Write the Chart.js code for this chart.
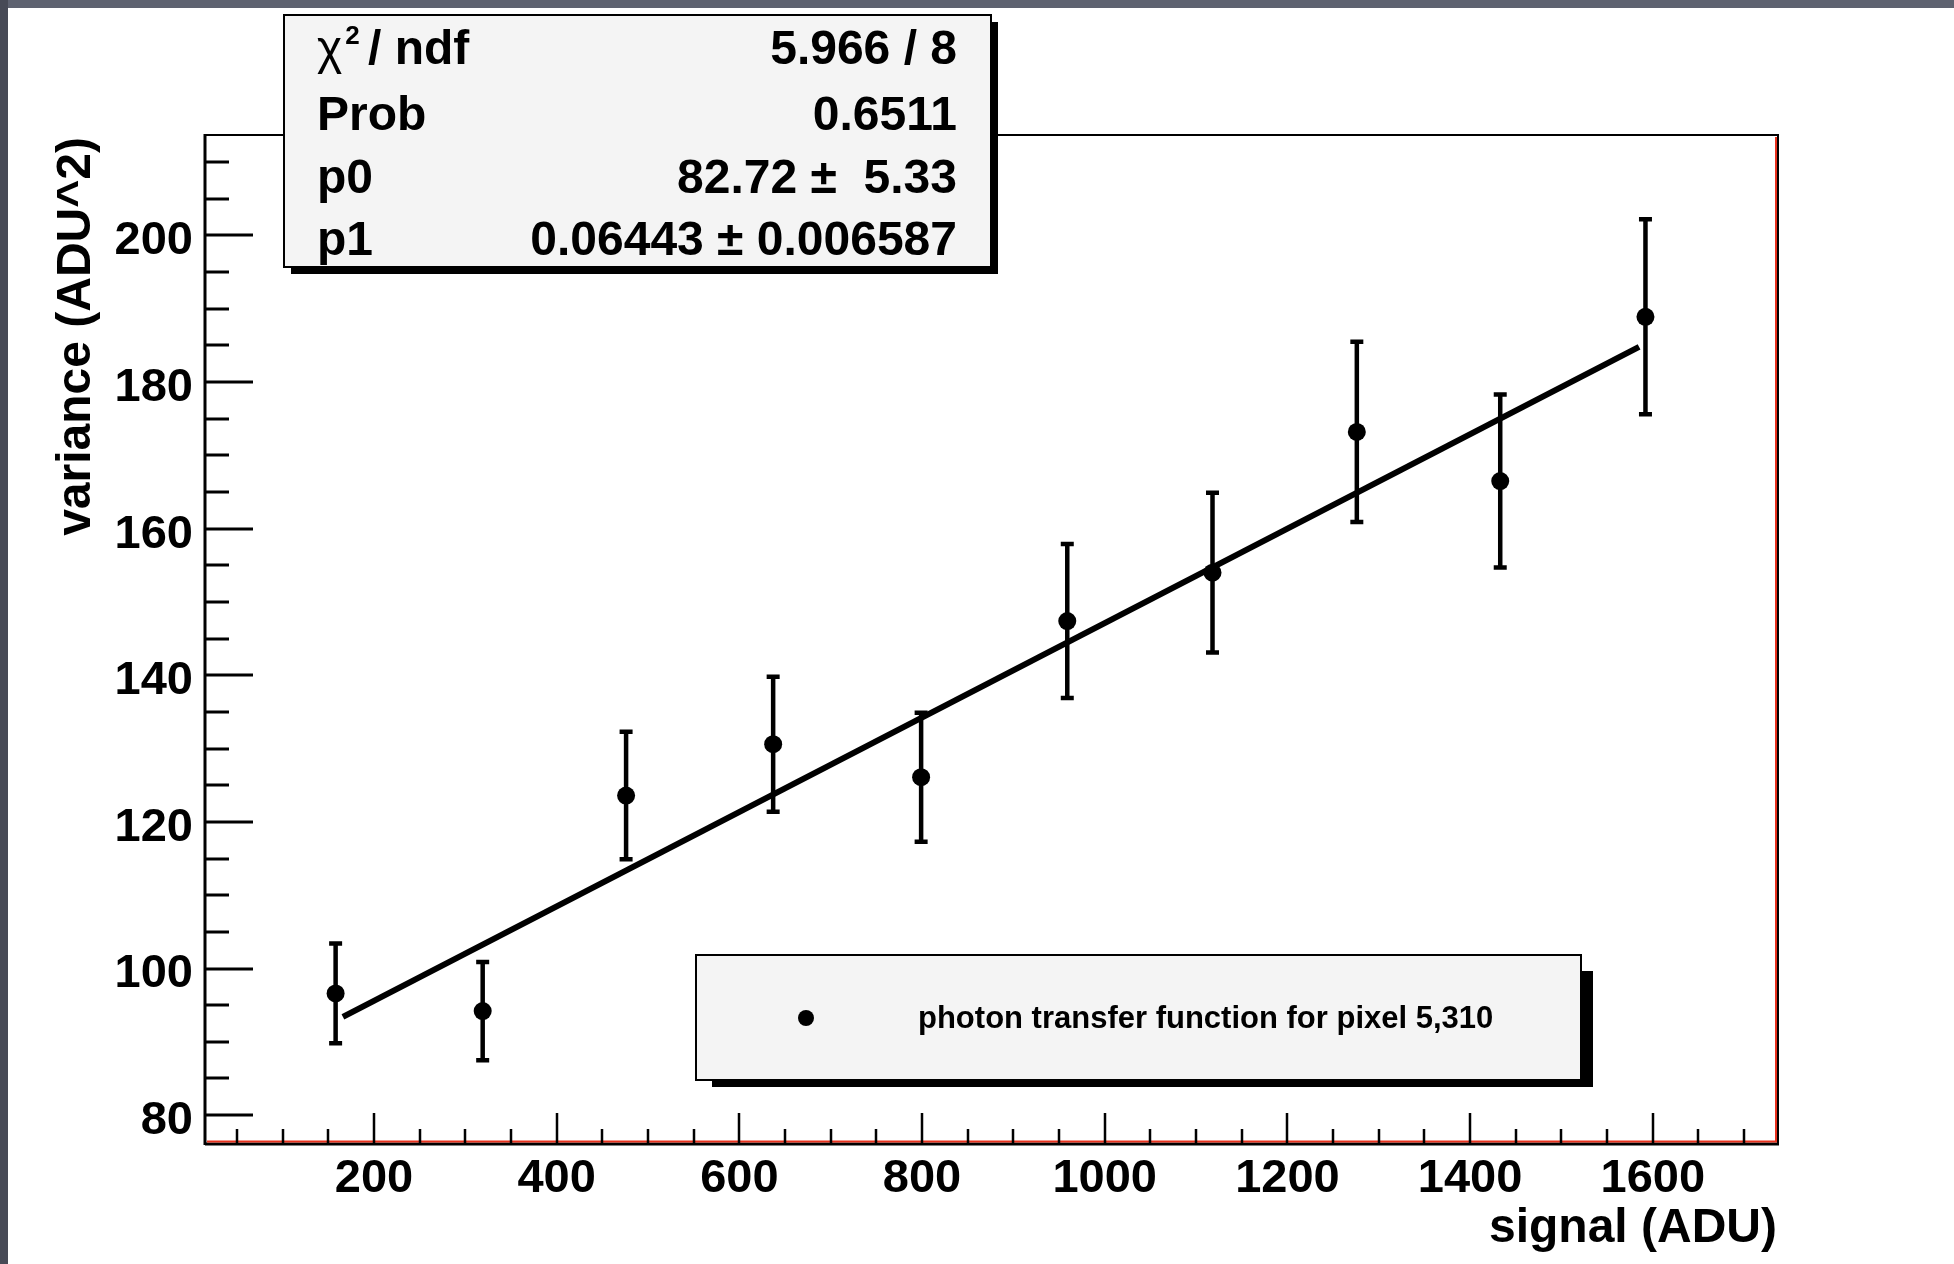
<!DOCTYPE html>
<html>
<head>
<meta charset="utf-8">
<script src="https://cdn.jsdelivr.net/npm/chart.js@4"></script>
<style>
html, body { margin: 0; padding: 0; background: #fff; }
#wrap { position: relative; width: 1954px; height: 1264px; }
</style>
</head>
<body>
<div id="wrap"><canvas id="ptf"></canvas></div>
<script>
// measured points (signal in ADU, variance in ADU^2)
var signal = [158, 319, 476, 637, 799, 959, 1118, 1276, 1433, 1592];
var variance = [96.6, 94.2, 123.6, 130.6, 126.1, 147.4, 154.0, 173.2, 166.5, 188.9];
var varianceErr = [6.8, 6.7, 8.7, 9.2, 8.8, 10.5, 10.9, 12.3, 11.8, 13.3];

// straight line fit, end points
var fitX = [166, 1585];
var fitY = [93.4, 184.8];

var xTicks = [200, 400, 600, 800, 1000, 1200, 1400, 1600];
var yTicks = [80, 100, 120, 140, 160, 180, 200];

var statLabels = ['/ ndf', 'Prob', 'p0', 'p1'];
var statValues = ['5.966 / 8', '0.6511', '82.72 \u00b1  5.33', '0.06443 \u00b1 0.006587'];
var legendText = 'photon transfer function for pixel 5,310';

var FONT = '"Liberation Sans", Arial, Helvetica, sans-serif';

var rootStyle = {
    id: 'rootStyle',
    beforeDraw: function(chart) {
        var ctx = chart.ctx;
        ctx.save();
        ctx.fillStyle = '#ffffff';
        ctx.fillRect(0, 0, chart.width, chart.height);
        ctx.fillStyle = '#5e6270';
        ctx.fillRect(0, 0, chart.width, 8);
        ctx.fillStyle = '#474a56';
        ctx.fillRect(0, 0, 8, chart.height);
        ctx.restore();
    },
    beforeDatasetsDraw: function(chart) {
        // error bars
        var ctx = chart.ctx, xs = chart.scales.x, ys = chart.scales.y;
        ctx.save();
        ctx.strokeStyle = '#000';
        ctx.lineWidth = 4.5;
        for (var i = 0; i < signal.length; i++) {
            var px = xs.getPixelForValue(signal[i]);
            var top = ys.getPixelForValue(variance[i] + varianceErr[i]);
            var bot = ys.getPixelForValue(variance[i] - varianceErr[i]);
            ctx.beginPath();
            ctx.moveTo(px, top); ctx.lineTo(px, bot);
            ctx.moveTo(px - 6.5, top); ctx.lineTo(px + 6.5, top);
            ctx.moveTo(px - 6.5, bot); ctx.lineTo(px + 6.5, bot);
            ctx.stroke();
        }
        ctx.restore();
    },
    afterDraw: function(chart) {
        var ctx = chart.ctx, a = chart.chartArea;
        var xs = chart.scales.x, ys = chart.scales.y;
        ctx.save();

        // frame
        ctx.strokeStyle = '#000';
        ctx.lineWidth = 2;
        ctx.beginPath();
        ctx.moveTo(a.left, a.top); ctx.lineTo(a.right + 2, a.top);
        ctx.moveTo(a.right + 1, a.top); ctx.lineTo(a.right + 1, a.bottom);
        ctx.stroke();
        ctx.lineWidth = 3;
        ctx.beginPath();
        ctx.moveTo(a.left, a.top - 1); ctx.lineTo(a.left, a.bottom + 2);
        ctx.moveTo(a.left, a.bottom + 1); ctx.lineTo(a.right + 2, a.bottom + 1);
        ctx.stroke();
        ctx.strokeStyle = '#e8321e';
        ctx.lineWidth = 2;
        ctx.beginPath();
        ctx.moveTo(a.left + 2, a.bottom - 1.5); ctx.lineTo(a.right, a.bottom - 1.5);
        ctx.moveTo(a.right - 1, a.top + 2); ctx.lineTo(a.right - 1, a.bottom - 1);
        ctx.stroke();

        // tick marks, pointing inward
        ctx.strokeStyle = '#000';
        ctx.lineWidth = 3;
        ctx.beginPath();
        for (var v = 80; v <= ys.max; v += 5) {
            var py = Math.round(ys.getPixelForValue(v));
            var len = (yTicks.indexOf(v) >= 0) ? 48 : 24;
            ctx.moveTo(a.left, py); ctx.lineTo(a.left + len, py);
        }
        ctx.stroke();
        ctx.lineWidth = 2.5;
        ctx.beginPath();
        for (var u = 50; u <= xs.max; u += 50) {
            var px = Math.round(xs.getPixelForValue(u));
            var l = (xTicks.indexOf(u) >= 0) ? 30 : 14;
            ctx.moveTo(px, a.bottom); ctx.lineTo(px, a.bottom - l);
        }
        ctx.stroke();

        // y axis title, end aligned with the top of the frame
        ctx.save();
        ctx.translate(90, 137);
        ctx.rotate(-Math.PI / 2);
        ctx.fillStyle = '#000';
        ctx.font = 'bold 48px ' + FONT;
        ctx.textAlign = 'right';
        ctx.textBaseline = 'alphabetic';
        ctx.fillText('variance (ADU^2)', 0, 0);
        ctx.restore();

        // stats box
        ctx.fillStyle = '#000';
        ctx.fillRect(291, 22, 707, 252);
        ctx.fillStyle = '#f4f4f4';
        ctx.fillRect(284, 15, 707, 252);
        ctx.strokeStyle = '#000';
        ctx.lineWidth = 2;
        ctx.strokeRect(284, 15, 707, 252);
        var rows = [64, 130, 193, 255];
        ctx.fillStyle = '#000';
        ctx.textBaseline = 'alphabetic';
        ctx.font = '48px ' + FONT;
        ctx.textAlign = 'left';
        ctx.fillText('\u03c7', 317, rows[0]);
        var x2 = 317 + ctx.measureText('\u03c7').width + 3;
        ctx.font = 'bold 26px ' + FONT;
        ctx.fillText('2', x2, rows[0] - 20);
        ctx.font = 'bold 48px ' + FONT;
        ctx.fillText(statLabels[0], 368, rows[0]);
        for (var r = 1; r < 4; r++) {
            ctx.fillText(statLabels[r], 317, rows[r]);
        }
        ctx.textAlign = 'right';
        for (var k = 0; k < 4; k++) {
            ctx.fillText(statValues[k], 957, rows[k]);
        }

        // legend box with its shadow strips
        ctx.fillStyle = '#000';
        ctx.fillRect(712, 1079, 881, 8);
        ctx.fillRect(1580, 971, 13, 116);
        ctx.fillStyle = '#f4f4f4';
        ctx.fillRect(696, 955, 885, 125);
        ctx.strokeRect(696, 955, 885, 125);
        ctx.fillStyle = '#000';
        ctx.beginPath();
        ctx.arc(806, 1018, 8, 0, Math.PI * 2);
        ctx.fill();
        ctx.font = 'bold 31px ' + FONT;
        ctx.textAlign = 'left';
        ctx.fillText(legendText, 918, 1028);

        ctx.restore();
    }
};

var ctx = document.getElementById('ptf').getContext('2d');
var chart = new Chart(ctx, {
    type: 'scatter',
    data: {
        datasets: [{
            label: 'fit',
            data: fitX.map(function(x, i) { return {x: x, y: fitY[i]}; }),
            showLine: true,
            borderColor: '#000',
            borderWidth: 6,
            pointRadius: 0,
            order: 0
        }, {
            label: legendText,
            data: signal.map(function(x, i) { return {x: x, y: variance[i]}; }),
            showLine: false,
            pointRadius: 9,
            pointBackgroundColor: '#000',
            pointBorderWidth: 0,
            order: 1
        }]
    },
    options: {
        responsive: true,
        maintainAspectRatio: false,
        animation: false,
        layout: { padding: { left: 0, top: 135, right: 177, bottom: 0 } },
        plugins: {
            legend: { display: false },
            tooltip: { enabled: false }
        },
        scales: {
            x: {
                type: 'linear',
                min: 15,
                max: 1736,
                grid: { display: false, drawTicks: false },
                border: { display: false },
                afterBuildTicks: function(s) { s.ticks = xTicks.map(function(v) { return {value: v}; }); },
                afterFit: function(s) { s.height = 121; },
                ticks: {
                    padding: 8,
                    color: '#000',
                    font: { family: FONT, size: 47, weight: 'bold' },
                    callback: function(v) { return String(v); }
                },
                title: {
                    display: true,
                    text: 'signal (ADU)',
                    align: 'end',
                    color: '#000',
                    font: { family: FONT, size: 48, weight: 'bold' },
                    padding: { top: 0, bottom: 6 }
                }
            },
            y: {
                type: 'linear',
                min: 76.2,
                max: 213.7,
                grid: { display: false, drawTicks: false },
                border: { display: false },
                afterBuildTicks: function(s) { s.ticks = yTicks.map(function(v) { return {value: v}; }); },
                afterFit: function(s) { s.width = 205; },
                ticks: {
                    padding: 12,
                    labelOffset: 6,
                    color: '#000',
                    font: { family: FONT, size: 47, weight: 'bold' },
                    callback: function(v) { return String(v); }
                }
            }
        }
    },
    plugins: [rootStyle]
});
</script>
</body>
</html>
